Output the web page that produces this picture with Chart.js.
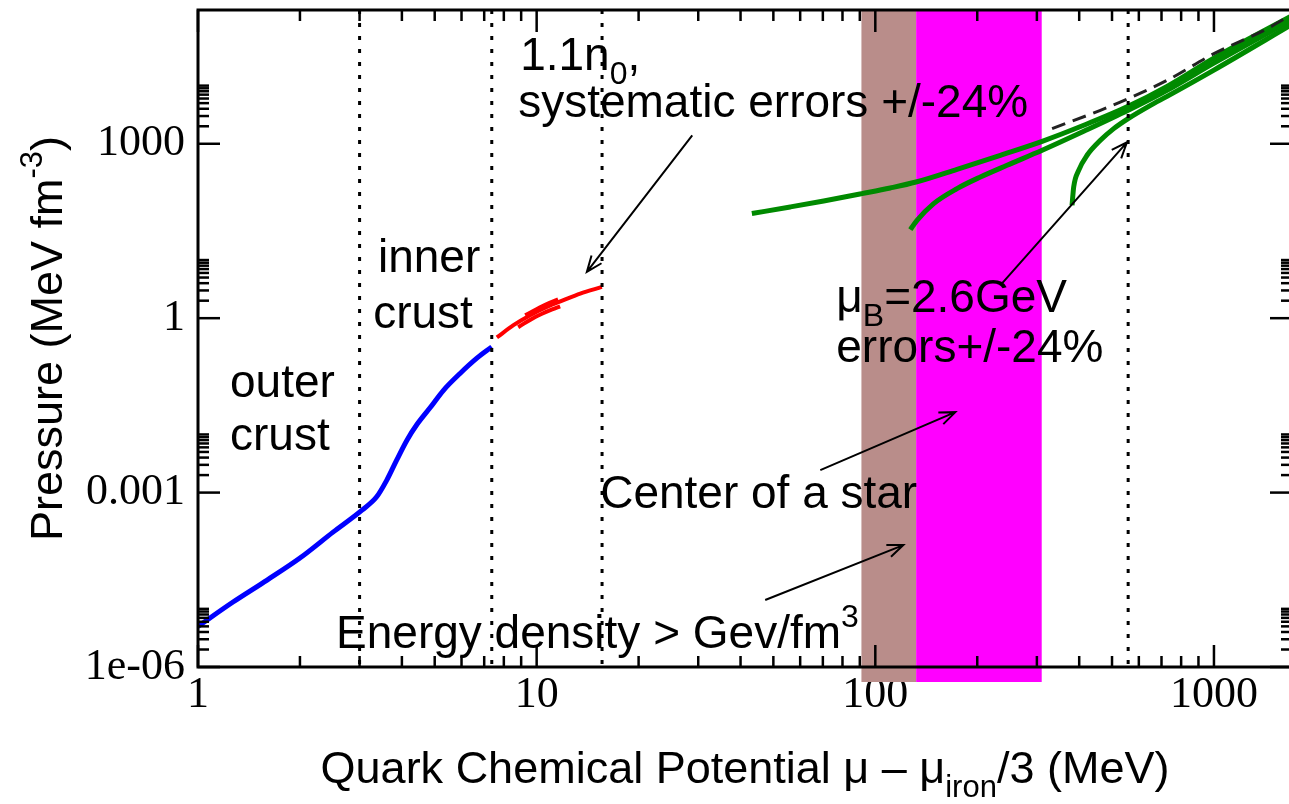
<!DOCTYPE html>
<html>
<head>
<meta charset="utf-8">
<script src="https://cdn.jsdelivr.net/npm/chart.js@4/dist/chart.umd.min.js"></script>
<style>
  html, body { margin: 0; padding: 0; overflow: hidden; background: #fff; width: 1289px; height: 804px; }
  #wrap { width: 1296px; height: 804px; }
</style>
</head>
<body>
<div id="wrap"><canvas id="c" width="1296" height="804"></canvas></div>
<script>
// ---- axis ticks ----
const xTicks = [1, 10, 100, 1000];
const xTickLabels = ['1', '10', '100', '1000'];
const yTicks = [1e-6, 1e-3, 1, 1000];
const yTickLabels = ['1e-06', '0.001', '1', '1000'];
const minorMult = [2, 3, 4, 5, 6, 7, 8, 9];
const yMinorMult = [2, 3, 4, 5, 6, 7, 8, 9, 10];

// ---- crust equation of state (outer + inner crust) ----
const crustMu = [1, 1.269, 1.60, 2.00, 2.505, 3.05, 3.37, 3.61, 3.86, 4.14, 4.43, 4.85, 5.30, 5.94, 6.66, 7.37];
const crustP  = [5.0e-6, 1.31e-5, 3.13e-5, 7.48e-5, 2.09e-4, 5.0e-4, 8.47e-4, 1.64e-3, 3.62e-3, 7.98e-3, 0.0148, 0.0290, 0.0570, 0.112, 0.205, 0.321];

// ---- nuclear matter up to 1.1 n0 (central + error strands) ----
const nucMu = [7.63, 8.54, 9.57, 10.72, 12.0, 13.45, 15.58];
const nucP  = [0.466, 0.757, 1.125, 1.56, 2.04, 2.65, 3.45];
const nucHiMu = [9.25, 10.6, 11.57];
const nucHiP  = [1.12, 1.70, 2.10];
const nucLoMu = [8.82, 9.90, 11.11, 11.73];
const nucLoP  = [0.70, 1.05, 1.42, 1.60];

// ---- perturbative QCD pressure (three renormalisation scales) ----
const pqcdAMu = [43.2, 56.1, 70.4, 91.3, 110.7, 131.9, 174.3, 234, 311, 412.6, 558, 727, 996.6, 1700];
const pqcdAP  = [63.0, 81.9, 103.8, 139, 173.8, 220, 364, 634, 1102, 2078, 4406, 9730, 29450, 159000];
const pqcdBMu = [126.9, 132.8, 148.7, 174.3, 204.3, 244.9, 311, 412.6, 558, 727, 996.6, 1700];
const pqcdBP  = [33.4, 48.3, 93.6, 169.5, 268.5, 426.6, 772, 1637, 3760, 8300, 24160, 135300];
const pqcdCMu = [381, 385.3, 398.6, 422, 462, 505.8, 558, 649.4, 727, 996.6, 1700];
const pqcdCP  = [87.5, 180.7, 349.8, 634, 1148, 1823, 2710, 4584, 6546, 18330, 113200];

// ---- free quark gas ----
const freeMu = [332.7, 462, 558, 727, 1000, 1436, 1700];
const freeP  = [1823, 3760, 5975, 12330, 35480, 95500, 168200];

// ---- regions ----
const regionBounds = [3, 7.37, 15.6, 558];
const bandEdges = [91, 132, 310];   // energy density > GeV/fm^3, centre of a star

const pts = (xs, ys) => xs.map((x, i) => ({ x: x, y: ys[i] }));

function line(data, color, width, dash) {
  return {
    data: data, showLine: true, borderColor: color, borderWidth: width,
    pointRadius: 0, fill: false, cubicInterpolationMode: 'monotone',
    borderDash: dash || [], borderCapStyle: 'butt'
  };
}

const SANS = '"Liberation Sans", Arial, Helvetica, sans-serif';
const SERIF = '"Liberation Serif", "Times New Roman", serif';
const FS = 46;

// rich text: parts [{t, sub, sup}]
function richWidth(ctx, parts, size) {
  let w = 0;
  for (const p of parts) {
    ctx.font = ((p.sub || p.sup) ? Math.round(size * 0.7) : size) + 'px ' + SANS;
    w += ctx.measureText(p.t).width;
  }
  return w;
}
function drawRich(ctx, parts, x, y, size) {
  let cx = x;
  for (const p of parts) {
    const s = (p.sub || p.sup) ? Math.round(size * 0.7) : size;
    ctx.font = s + 'px ' + SANS;
    const dy = p.sub ? size * 0.3 : (p.sup ? -size * 0.45 : 0);
    ctx.fillText(p.t, cx, y + dy);
    cx += ctx.measureText(p.t).width;
  }
}

function arrow(ctx, x0, y0, x1, y1) {
  const a = Math.atan2(y1 - y0, x1 - x0);
  const L = 17, h = 0.38;
  ctx.beginPath();
  ctx.moveTo(x0, y0); ctx.lineTo(x1, y1);
  ctx.moveTo(x1 - L * Math.cos(a - h), y1 - L * Math.sin(a - h));
  ctx.lineTo(x1, y1);
  ctx.lineTo(x1 - L * Math.cos(a + h), y1 - L * Math.sin(a + h));
  ctx.stroke();
}

// annotations anchored in data coordinates (left, baseline)
const labels = [
  { x: 1.243, y: 0.0439, parts: [{ t: 'outer' }] },
  { x: 1.243, y: 5.37e-3, parts: [{ t: 'crust' }] },
  { x: 3.40, y: 6.17, parts: [{ t: 'inner' }] },
  { x: 3.29, y: 0.673, parts: [{ t: 'crust' }] },
  { x: 8.94, y: 18300, parts: [{ t: '1.1n' }, { t: '0', sub: true }, { t: ',' }] },
  { x: 8.82, y: 2851, parts: [{ t: 'systematic errors +/-24%' }] },
  { x: 76.7, y: 1.27, parts: [{ t: 'μ' }, { t: 'B', sub: true }, { t: '=2.6GeV' }] },
  { x: 76.7, y: 0.175, parts: [{ t: 'errors+/-24%' }] },
  { x: 15.4, y: 5.4e-4, parts: [{ t: 'Center of a star' }] },
  { x: 2.557, y: 2.12e-6, parts: [{ t: 'Energy density > Gev/fm' }, { t: '3', sup: true }] }
];
const arrows = [
  [28.8, 1399, 14.07, 6.25],
  [68.8, 2.44e-3, 172.3, 0.0242],
  [47.3, 1.42e-5, 121, 1.25e-4],
  [235.6, 3.84, 553.4, 1060]
];

const decor = {
  id: 'decor',
  beforeDatasetsDraw(chart) {
    const { ctx, chartArea: ca, scales: { x: sx } } = chart;
    const colors = ['#b98d8a', '#ff00ff'];
    ctx.save();
    for (let i = 0; i < 2; i++) {
      const x0 = sx.getPixelForValue(bandEdges[i]);
      const x1 = sx.getPixelForValue(bandEdges[i + 1]);
      ctx.fillStyle = colors[i];
      ctx.fillRect(x0, ca.top, x1 - x0, ca.bottom + 15 - ca.top);
    }
    ctx.restore();
  },
  afterDatasetsDraw(chart) {
    const { ctx, chartArea: ca, scales: { x: sx, y: sy } } = chart;
    ctx.save();
    // region separators
    ctx.strokeStyle = '#000';
    ctx.lineWidth = 3;
    ctx.setLineDash([4, 9]);
    for (const v of regionBounds) {
      const X = sx.getPixelForValue(v);
      ctx.beginPath(); ctx.moveTo(X, ca.top); ctx.lineTo(X, ca.bottom); ctx.stroke();
    }
    ctx.setLineDash([]);
    // frame
    ctx.lineWidth = 3;
    ctx.strokeRect(ca.left, ca.top, ca.right - ca.left, ca.bottom - ca.top);
    // inward ticks
    ctx.lineWidth = 2.5;
    const seg = (a, b, c, d) => { ctx.beginPath(); ctx.moveTo(a, b); ctx.lineTo(c, d); ctx.stroke(); };
    for (const t of xTicks) {
      const mk = [[t, 22]].concat(minorMult.map(m => [m * t, 11]));
      for (const [v, L] of mk) {
        if (v > sx.max) continue;
        const X = sx.getPixelForValue(v);
        seg(X, ca.bottom, X, ca.bottom - L);
        seg(X, ca.top, X, ca.top + L);
      }
    }
    for (const t of yTicks) {
      const mk = [[t, 22]].concat(yMinorMult.map(m => [m * t, 11]));
      for (const [v, L] of mk) {
        if (v > sy.max) continue;
        const Y = sy.getPixelForValue(v);
        seg(ca.left, Y, ca.left + L, Y);
        seg(ca.right, Y, ca.right - L, Y);
      }
    }
    // arrows
    ctx.lineWidth = 2;
    for (const a of arrows) {
      arrow(ctx, sx.getPixelForValue(a[0]), sy.getPixelForValue(a[1]),
                 sx.getPixelForValue(a[2]), sy.getPixelForValue(a[3]));
    }
    // annotations
    ctx.fillStyle = '#000';
    ctx.textBaseline = 'alphabetic';
    ctx.textAlign = 'left';
    for (const l of labels) {
      drawRich(ctx, l.parts, sx.getPixelForValue(l.x), sy.getPixelForValue(l.y), FS);
    }
    // axis titles
    const xt = [{ t: 'Quark Chemical Potential μ – μ' }, { t: 'iron', sub: true }, { t: '/3 (MeV)' }];
    const wx = richWidth(ctx, xt, 45);
    drawRich(ctx, xt, (ca.left + ca.right) / 2 - wx / 2, ca.bottom + 116, 45);
    const yt = [{ t: 'Pressure (MeV fm' }, { t: '-3', sup: true }, { t: ')' }];
    const wy = richWidth(ctx, yt, 45);
    ctx.translate(62, (ca.top + ca.bottom) / 2);
    ctx.rotate(-Math.PI / 2);
    drawRich(ctx, yt, -wy / 2, 0, 45);
    ctx.restore();
  }
};

new Chart(document.getElementById('c'), {
  type: 'scatter',
  data: {
    datasets: [
      line(pts(crustMu, crustP), '#0000ff', 5),
      line(pts(nucMu, nucP), '#ff0000', 4),
      line(pts(nucHiMu, nucHiP), '#ff0000', 4),
      line(pts(nucLoMu, nucLoP), '#ff0000', 4),
      line(pts(freeMu, freeP), '#222222', 3, [14, 8]),
      line(pts(pqcdAMu, pqcdAP), '#008a00', 5),
      line(pts(pqcdBMu, pqcdBP), '#008a00', 5),
      line(pts(pqcdCMu, pqcdCP), '#008a00', 5)
    ]
  },
  options: {
    responsive: false,
    animation: false,
    devicePixelRatio: 1,
    layout: { padding: { top: 10, right: 4, left: 0, bottom: 0 } },
    plugins: { legend: { display: false }, tooltip: { enabled: false } },
    scales: {
      x: {
        type: 'logarithmic', min: 1, max: 1700, position: 'bottom',
        afterBuildTicks: s => { s.ticks = xTicks.map(v => ({ value: v })); },
        afterFit: s => { s.height = 137; s.paddingLeft = 0; s.paddingRight = 0; },
        grid: { display: false, drawTicks: false }, border: { display: false },
        ticks: {
          autoSkip: false, maxRotation: 0, minRotation: 0, padding: 2, color: '#000',
          font: { family: SERIF, size: 44 },
          callback: (v) => xTickLabels[xTicks.indexOf(v)] ?? ''
        }
      },
      y: {
        type: 'logarithmic', min: 1e-6, max: 2e5, position: 'left',
        afterBuildTicks: s => { s.ticks = yTicks.map(v => ({ value: v })); },
        afterFit: s => { s.width = 198; s.paddingTop = 0; s.paddingBottom = 0; },
        grid: { display: false, drawTicks: false }, border: { display: false },
        ticks: {
          autoSkip: false, padding: 13, color: '#000',
          font: { family: SERIF, size: 44 },
          callback: (v) => {
            const i = yTicks.findIndex(t => Math.abs(Math.log10(t) - Math.log10(v)) < 1e-6);
            return i >= 0 ? yTickLabels[i] : '';
          }
        }
      }
    }
  },
  plugins: [decor]
});
</script>
</body>
</html>
